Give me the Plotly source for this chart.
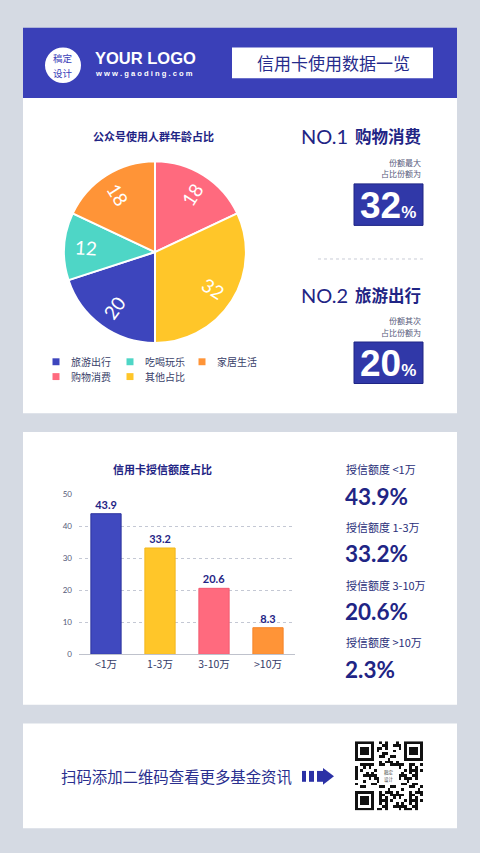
import math
import plotly.graph_objects as go

W, H = 480, 853

# ---------------- data ----------------
pie_title = "公众号使用人群年龄占比"
pie_labels = ["旅游出行", "吃喝玩乐", "家居生活", "购物消费", "其他占比"]
pie_values = [20, 12, 18, 18, 32]
pie_colors = ["#3D45BD", "#4ED6C6", "#FF9437", "#FF6A7E", "#FFC629"]

bar_title = "信用卡授信额度占比"
bar_cats = ["<1万", "1-3万", "3-10万", ">10万"]
bar_values = [43.9, 33.2, 20.6, 8.3]
bar_colors = ["#4049BF", "#FFC629", "#FF6A7E", "#FF9437"]
bar_edges = ["#2C339E", "#F2B71E", "#F25A70", "#F58428"]
y_ticks = [0, 10, 20, 30, 40, 50]

rank_titles = ["NO.1", "NO.2"]
rank_names = ["购物消费", "旅游出行"]
rank_notes = [["份额最大", "占比份额为"], ["份额其次", "占比份额为"]]
rank_values = [32, 20]

credit_labels = ["授信额度 <1万", "授信额度 1-3万", "授信额度 3-10万", "授信额度 >10万"]
credit_values = ["43.9%", "33.2%", "20.6%", "2.3%"]

header_title = "信用卡使用数据一览"
footer_text = "扫码添加二维码查看更多基金资讯"

NAVY = "#1F2585"
BLUE = "#3A40B8"
CJK = "Noto Sans CJK SC"


def px(x):
    return x / W


def py(y):
    return 1 - y / H


shapes = []
ann = []


def rect(x0, y0, x1, y1, fill, line=None, lw=0, layer="below"):
    shapes.append(dict(type="rect", xref="paper", yref="paper",
                       x0=px(x0), x1=px(x1), y0=py(y1), y1=py(y0),
                       fillcolor=fill, line=dict(color=line or fill, width=lw), layer=layer))


def text(x, y, s, size, color=NAVY, xa="center", family=CJK, ya="middle", angle=0):
    ann.append(dict(xref="paper", yref="paper", x=px(x), y=py(y), text=s,
                    showarrow=False, xanchor=xa, yanchor=ya, textangle=angle,
                    font=dict(size=size, color=color, family=family)))


# panels
rect(23, 23, 457, 94, BLUE)
rect(23, 94, 457, 413, "white")
rect(23, 432, 457, 708, "white")
rect(23, 727, 457, 833, "white")

# header
shapes.append(dict(type="circle", xref="paper", yref="paper",
                   x0=px(45), x1=px(81), y0=py(79), y1=py(43),
                   fillcolor="white", line=dict(color="white", width=0), layer="below"))
text(63, 53.5, "稿定", 9.5, color=BLUE)
text(63, 68.5, "设计", 9.5, color=BLUE)
text(93, 54, "<b>YOUR LOGO</b>", 16.5, color="white", xa="left", family="Liberation Sans")
text(93, 69, "<b>w w w . g a o d i n g . c o m</b>", 7.6, color="white", xa="left", family="Liberation Sans")
rect(232, 43, 433, 74, "white")
text(333, 58.5, header_title, 17, color="#262B8C")

# pie geometry (pixels)
PX0, PX1, PY0, PY1 = 64, 246, 158, 342
pcx, pcy = (PX0 + PX1) / 2, (PY0 + PY1) / 2
prad = min(PX1 - PX0, PY1 - PY0) / 2

# pie title & legend
text(153, 133, "<b>" + pie_title + "</b>", 11)
leg_pos = [(56, 361), (130, 361), (202, 361), (56, 376), (130, 376)]
for (lx, ly), lab, col in zip(leg_pos, pie_labels, pie_colors):
    rect(lx - 3.5, ly - 3.5, lx + 3.5, ly + 3.5, col)
    text(lx + 13, ly, lab, 10, color="#3A3F6A", xa="left")

# radial slice value labels (from values; slices start at 6 o'clock, clockwise)
total = sum(pie_values)
acc = 0
for v in pie_values:
    theta = 180 + (acc + v / 2) / total * 360  # clockwise from 12 o'clock
    acc += v
    t = math.radians(theta)
    lx = pcx + 0.76 * prad * math.sin(t)
    ly = pcy - 0.76 * prad * math.cos(t)
    ang = (theta - 90) % 180
    if ang > 90:
        ang -= 180
    text(lx, ly, str(v), 19, color="white", family="Lato", angle=ang)

# rank boxes
rank_y = [133, 293]
for i in range(2):
    y0 = rank_y[i]
    text(299, y0, rank_titles[i], 20, xa="left", family="Lato")
    text(423, y0, "<b>" + rank_names[i] + "</b>", 16.5, xa="right")
    text(423, y0 + 26, rank_notes[i][0], 8, color="#555A7A", xa="right")
    text(423, y0 + 38, rank_notes[i][1], 8, color="#555A7A", xa="right")
    by = y0 + 48
    rect(354, by, 423, by + 42, "#3038A8", line="#1F2585", lw=1)
    text(388, by + 22, "<b>%d</b><b style='font-size:17px'>%%</b>" % rank_values[i], 37,
         color="white", family="Liberation Sans")
shapes.append(dict(type="line", xref="paper", yref="paper", x0=px(318), x1=px(423),
                   y0=py(257), y1=py(257), line=dict(color="#C9CCD6", width=1, dash="dot")))

# bar title and credit texts
text(162, 469, "<b>" + bar_title + "</b>", 11)
cy = [470, 528, 587, 645]
for yy, lab, val in zip(cy, credit_labels, credit_values):
    text(344, yy, lab, 11, color="#2A2F7A", xa="left")
    text(343, yy + 27, "<b>" + val + "</b>", 22.5, xa="left", family="Lato")

# footer
text(59, 780, footer_text, 15.4, color="#2A2F8F", xa="left")
for a, b in [(302, 306), (309, 314), (317, 323)]:
    rect(a, 775, b, 786, "#2B31A6")
shapes.append(dict(type="path", xref="paper", yref="paper",
                   path="M %f %f L %f %f L %f %f Z" % (px(323), py(772), px(334), py(780.5), px(323), py(789)),
                   fillcolor="#2B31A6", line=dict(width=0)))

# QR decoration
n = 25
qr = [[0] * n for _ in range(n)]
for i in range(n):
    for j in range(n):
        qr[i][j] = 1 if ((i * i * 3 + j * 7 + i * j * 5 + j * j) % 11) < 5 else 0


def finder(r, c):
    for i in range(-1, 8):
        for j in range(-1, 8):
            rr, cc = r + i, c + j
            if 0 <= rr < n and 0 <= cc < n:
                if i in (-1, 7) or j in (-1, 7):
                    v = 0
                elif i in (0, 6) or j in (0, 6):
                    v = 1
                elif 2 <= i <= 4 and 2 <= j <= 4:
                    v = 1
                else:
                    v = 0
                qr[rr][cc] = v


finder(0, 0)
finder(0, n - 7)
finder(n - 7, 0)
for i in range(9, 16):
    for j in range(9, 16):
        qr[i][j] = 0

fig = go.Figure()

fig.add_trace(go.Pie(
    labels=pie_labels, values=pie_values, sort=False, direction="clockwise", rotation=180,
    marker=dict(colors=pie_colors, line=dict(color="white", width=2)),
    textinfo="none", showlegend=False, hoverinfo="skip",
    domain=dict(x=[px(PX0), px(PX1)], y=[py(PY1), py(PY0)]),
))

fig.add_trace(go.Bar(
    x=bar_cats, y=bar_values, width=0.56,
    marker=dict(color=bar_colors, line=dict(color=bar_edges, width=1)),
    text=["<b>%s</b>" % v for v in bar_values], textposition="outside",
    textfont=dict(color=NAVY, size=11, family="Lato"),
    cliponaxis=False, showlegend=False, xaxis="x", yaxis="y",
))

fig.add_trace(go.Heatmap(
    z=qr, colorscale=[[0, "white"], [1, "#111111"]], showscale=False,
    xaxis="x3", yaxis="y3", hoverinfo="skip",
))
text(389, 777, "稿定", 4.5, color="#444")
text(389, 783.5, "设计", 4.5, color="#444")

fig.update_layout(
    width=W, height=H, margin=dict(l=0, r=0, t=0, b=0),
    paper_bgcolor="#D5DAE3", plot_bgcolor="rgba(0,0,0,0)",
    shapes=shapes, annotations=ann,
    xaxis=dict(domain=[px(79), px(295)], showgrid=False, showline=True, linecolor="#BFC2CC",
               linewidth=1, tickfont=dict(size=10.5, color="#333A66", family=CJK), ticks="",
               fixedrange=True),
    yaxis=dict(domain=[py(657), py(495)], range=[0, 50], tickvals=y_ticks,
               gridcolor="#C4C8D4", griddash="dot", gridwidth=1, zeroline=False,
               tickfont=dict(size=8, color="#555A77", family="Lato"), ticklabelstandoff=6,
               fixedrange=True),
    xaxis3=dict(domain=[px(355), px(423)], visible=False, anchor="y3"),
    yaxis3=dict(domain=[py(815), py(745)], visible=False, anchor="x3", autorange="reversed"),
    bargap=0.44,
)

fig.write_html("out.html")
